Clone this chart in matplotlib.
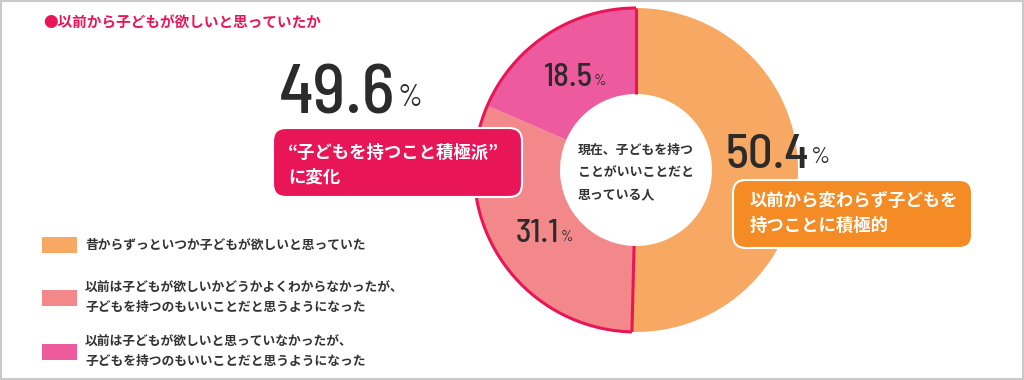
import matplotlib
matplotlib.use("Agg")
import matplotlib.pyplot as plt
from matplotlib.patches import Rectangle, FancyBboxPatch, Arc
import numpy as np

plt.rcParams['font.family'] = ['Noto Sans CJK JP', 'DejaVu Sans']

# data
title = "●以前から子どもが欲しいと思っていたか"
categories = [
    "昔からずっといつか子どもが欲しいと思っていた",
    "以前は子どもが欲しいかどうかよくわからなかったが、\n子どもを持つのもいいことだと思うようになった",
    "以前は子どもが欲しいと思っていなかったが、\n子どもを持つのもいいことだと思うようになった",
]
shares = [50.4, 31.1, 18.5]
colors = ["#F7A862", "#F3888A", "#EE5A9E"]
center_label = ["現在、子どもを持つ", "ことがいいことだと", "思っている人"]
callout_changed = ["“子どもを持つこと積極派”", "に変化"]
callout_same = ["以前から変わらず子どもを", "持つことに積極的"]

CRIMSON = "#E91657"
ORANGE_BOX = "#F48B24"
TXT = "#2b2b2b"
NUM_FONT = ['Barlow Semi Condensed', 'DejaVu Sans']

W, H = 1024, 380
cx, cy, R = 636, 170, 162
r_in = 76 / R
pad = 1.05

fig = plt.figure(figsize=(W / 100, H / 100), dpi=100)
fig.patch.set_facecolor("white")

# donut
ax = fig.add_axes([(cx - R * pad) / W, (H - cy - R * pad) / H, 2 * R * pad / W, 2 * R * pad / H])
wedges, _ = ax.pie(shares, colors=colors, startangle=90, counterclock=False, radius=1,
                   wedgeprops=dict(width=1 - r_in, linewidth=0))
ax.set_xlim(-pad, pad)
ax.set_ylim(-pad, pad)
ax.set_aspect("auto")
ax.axis("off")

# crimson outline around the "changed" group (slices 2 and 3)
t1 = min(w.theta1 for w in wedges[1:])
t2 = max(w.theta2 for w in wedges[1:])
ax.add_patch(Arc((0, 0), 2, 2, theta1=t1, theta2=t2, color=CRIMSON, lw=2.2))
for t in (t1, t2):
    a = np.deg2rad(t)
    ax.plot([r_in * np.cos(a), np.cos(a)], [r_in * np.sin(a), np.sin(a)], color=CRIMSON, lw=2.2,
            solid_capstyle="butt")

# overlay in pixel coordinates
ov = fig.add_axes([0, 0, 1, 1])
ov.set_xlim(0, W)
ov.set_ylim(H, 0)
ov.axis("off")

ov.add_patch(Rectangle((0.5, 0.5), W - 1.5, H - 2, fill=False, ec="#c9c9c9", lw=1.5))

ov.text(43, 23, title, fontsize=10.5, color=CRIMSON, weight="bold", va="center", ha="left")

# slice labels
rm = 0.7 * R
for w, v in zip(wedges[1:], shares[1:]):
    mid = np.deg2rad((w.theta1 + w.theta2) / 2)
    x = cx + rm * np.cos(mid) + 19
    y = cy - rm * np.sin(mid) + 11
    ov.text(x, y, f"{v:.1f}", fontsize=23.5, family=NUM_FONT, weight="medium", color=TXT,
            ha="right", va="baseline")
    ov.text(x + 1, y - 1, "%", fontsize=11, family=NUM_FONT, color=TXT, ha="left", va="baseline")

# center text
for i, line in enumerate(center_label):
    ov.text(578, 150 + i * 22, line, fontsize=9.3, color="#333333", weight="bold", ha="left", va="center")

# changed group: big number + callout
changed = sum(shares[1:])
ov.text(395, 113, f"{changed:.1f}", fontsize=50, family=NUM_FONT, weight="medium", color=TXT,
        ha="right", va="baseline")
ov.text(398, 106, "%", fontsize=22, family=NUM_FONT, color=TXT, ha="left", va="baseline")
ov.add_patch(FancyBboxPatch((273, 128), 249, 69, boxstyle="round,pad=0,rounding_size=13",
                            fc=CRIMSON, ec="white", lw=1.5, zorder=3))
for i, line in enumerate(callout_changed):
    ov.text(288, 153 + i * 25, line, fontsize=12.5, color="white", weight="bold",
            ha="left", va="center", zorder=4)

# same group: big number + callout
ov.text(809, 168, f"{shares[0]:.1f}", fontsize=35, family=NUM_FONT, weight="medium", color=TXT,
        ha="right", va="baseline")
ov.text(811, 163, "%", fontsize=17, family=NUM_FONT, color=TXT, ha="left", va="baseline")
ov.add_patch(FancyBboxPatch((733, 180), 239, 68, boxstyle="round,pad=0,rounding_size=13",
                            fc=ORANGE_BOX, ec="white", lw=1.5, zorder=3))
for i, line in enumerate(callout_same):
    ov.text(750, 201 + i * 25, line, fontsize=12.5, color="white", weight="bold",
            ha="left", va="center", zorder=4)

# legend
leg_y = [245, 298, 352]
for y, c, lab in zip(leg_y, colors, categories):
    ov.add_patch(Rectangle((42, y - 8), 35, 16, fc=c, ec="none"))
    ov.text(85, y, lab, fontsize=9.2, color="#333333", weight="bold", ha="left", va="center",
            linespacing=1.55)

fig.savefig("out.png", dpi=100, facecolor="white")
